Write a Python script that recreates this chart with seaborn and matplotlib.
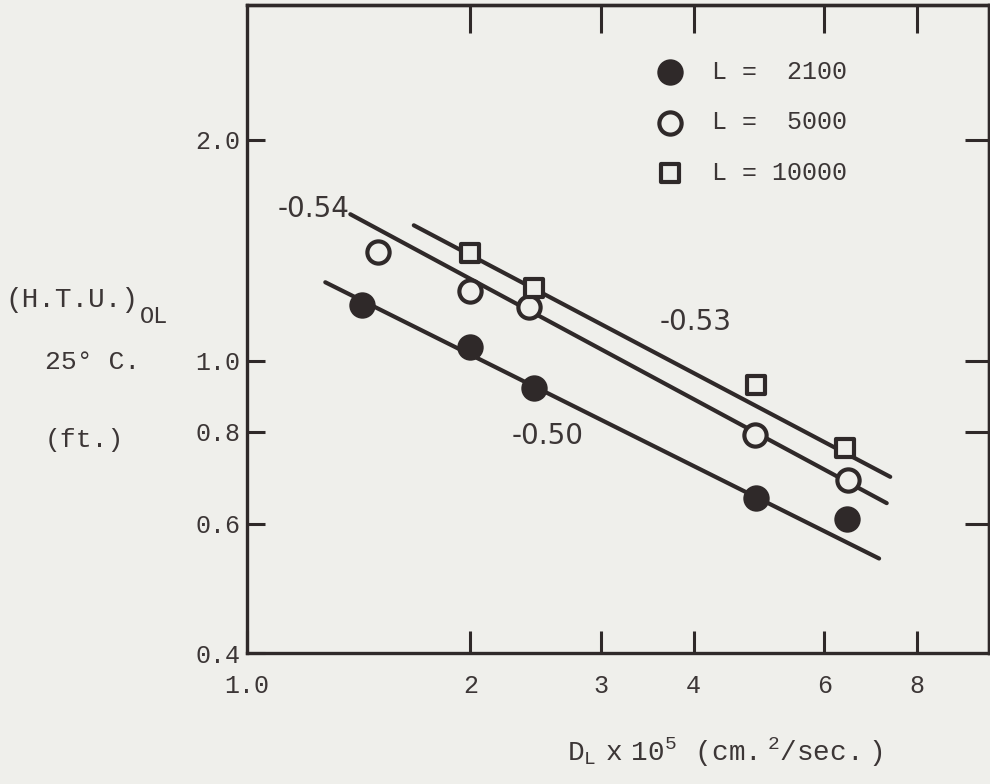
import matplotlib
matplotlib.use("Agg")
import matplotlib.pyplot as plt
from matplotlib.ticker import NullLocator, FixedLocator, FixedFormatter
import seaborn as sns

# measured points: D_L x 10^5 vs (H.T.U.)OL at 25 C
dl_2100 = [1.43, 2.0, 2.44, 4.86, 6.43]
htu_2100 = [1.19, 1.044, 0.918, 0.65, 0.609]
dl_5000 = [1.50, 2.0, 2.40, 4.84, 6.45]
htu_5000 = [1.407, 1.246, 1.183, 0.793, 0.688]
dl_10000 = [2.0, 2.44, 4.86, 6.39]
htu_10000 = [1.404, 1.255, 0.926, 0.760]

# hand-drawn correlation lines (end points)
fit_2100_x = [1.275, 7.11]
fit_2100_y = [1.279, 0.538]
fit_5000_x = [1.378, 7.28]
fit_5000_y = [1.583, 0.640]
fit_10000_x = [1.678, 7.36]
fit_10000_y = [1.529, 0.695]

slope_labels = ["-0.50", "-0.54", "-0.53"]
slope_x = [2.27, 1.098, 3.60]
slope_y = [0.791, 1.608, 1.13]

x_ticks = [1, 2, 3, 4, 6, 8]
x_ticklabels = ["1.0", "2", "3", "4", "6", "8"]
y_ticks = [0.4, 0.6, 0.8, 1.0, 2.0]
y_ticklabels = ["0.4", "0.6", "0.8", "1.0", "2.0"]

BG = "#efefeb"
INK = "#2f2929"
TXT = "#3c3636"
MONO = ["Liberation Mono", "DejaVu Sans Mono"]
SANS = ["DejaVu Sans"]

sns.set_theme(style="ticks")
plt.rcParams["font.family"] = MONO
plt.rcParams["text.color"] = TXT
plt.rcParams["axes.labelcolor"] = TXT
plt.rcParams["xtick.color"] = INK
plt.rcParams["ytick.color"] = INK
plt.rcParams["xtick.labelcolor"] = TXT
plt.rcParams["ytick.labelcolor"] = TXT

fig = plt.figure(figsize=(9.9, 7.84), dpi=100, facecolor=BG)
ax = fig.add_axes([0.2495, 0.167, 0.7495, 0.8266], facecolor=BG)
ax.set_xscale("log")
ax.set_yscale("log")
ax.set_xlim(1.0, 10.0)
ax.set_ylim(0.4, 3.05)

# correlation lines
for fx, fy in [(fit_2100_x, fit_2100_y), (fit_5000_x, fit_5000_y), (fit_10000_x, fit_10000_y)]:
    sns.lineplot(x=fx, y=fy, ax=ax, color=INK, linewidth=3.0, zorder=2,
                 solid_capstyle="round")

# data points
sns.scatterplot(x=dl_2100, y=htu_2100, ax=ax, marker="o", s=17.5 ** 2,
                color=INK, edgecolor=INK, linewidth=1.5, zorder=3, label="L =  2100")
sns.scatterplot(x=dl_5000, y=htu_5000, ax=ax, marker="o", s=16 ** 2,
                facecolor=BG, edgecolor=INK, linewidth=3.0, zorder=3, label="L =  5000")
sns.scatterplot(x=dl_10000, y=htu_10000, ax=ax, marker="s", s=13.5 ** 2,
                facecolor=BG, edgecolor=INK, linewidth=3.0, zorder=3, label="L = 10000")

for lab, sx, sy in zip(slope_labels, slope_x, slope_y):
    ax.text(sx, sy, lab, fontsize=20, family=SANS, color=TXT, ha="left", va="center")

# axes frame and ticks
for side in ["left", "right", "top", "bottom"]:
    ax.spines[side].set_linewidth(2.4)
    ax.spines[side].set_color(INK)

ax.xaxis.set_major_locator(FixedLocator(x_ticks))
ax.xaxis.set_major_formatter(FixedFormatter(x_ticklabels))
ax.xaxis.set_minor_locator(NullLocator())
ax.yaxis.set_major_locator(FixedLocator(y_ticks))
ax.yaxis.set_major_formatter(FixedFormatter(y_ticklabels))
ax.yaxis.set_minor_locator(NullLocator())
ax.tick_params(axis="x", direction="in", length=16, width=2.2, pad=15, labelsize=18,
               top=False)
ax.tick_params(axis="y", direction="in", length=13, width=2.2, pad=5, labelsize=18,
               right=False)

top = ax.secondary_xaxis("top")
top.xaxis.set_major_locator(FixedLocator(x_ticks[1:]))
top.xaxis.set_minor_locator(NullLocator())
top.tick_params(direction="in", length=20, width=2.2, labeltop=False)
top.spines["top"].set_linewidth(2.4)
top.spines["top"].set_color(INK)

right = ax.secondary_yaxis("right")
right.yaxis.set_major_locator(FixedLocator(y_ticks[1:]))
right.yaxis.set_minor_locator(NullLocator())
right.tick_params(direction="in", length=17, width=2.2, labelright=False)
right.spines["right"].set_linewidth(2.4)
right.spines["right"].set_color(INK)

leg = ax.legend(loc="upper left", bbox_to_anchor=(655 / 990, 1 - 60 / 784),
                bbox_transform=fig.transFigure, frameon=False, prop={"family": MONO, "size": 18},
                handlelength=1.2, handletextpad=1.1, labelspacing=1.05,
                borderpad=0, borderaxespad=0, scatterpoints=1)

# axis titles, typed in the original
fig.text(5 / 990, 1 - 300 / 784, "(H.T.U.)", fontsize=20, ha="left", va="center")
fig.text(140 / 990, 1 - 316 / 784, "OL", fontsize=17, ha="left", va="center")
fig.text(45 / 990, 1 - 362 / 784, "25° C.", fontsize=19, ha="left", va="center")
fig.text(45 / 990, 1 - 440 / 784, "(ft.)", fontsize=19, ha="left", va="center")
fig.text(725 / 990, 1 - 752 / 784,
         r"$\mathregular{D_L\ x\ 10^5\ \ (cm.^2/sec.)}$", fontsize=20,
         ha="center", va="center")

fig.savefig("out.png", dpi=100, facecolor=BG)
